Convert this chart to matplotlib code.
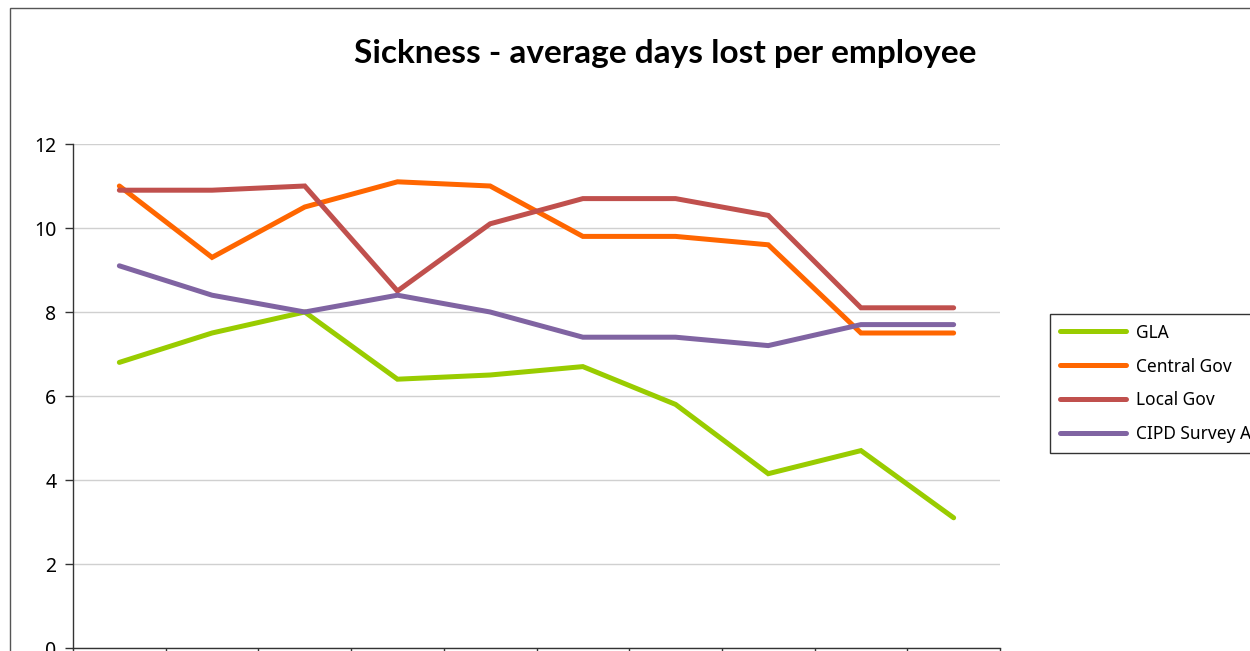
import matplotlib
matplotlib.use("Agg")
import matplotlib.pyplot as plt
from matplotlib.patches import Rectangle
from matplotlib.ticker import FixedLocator, NullFormatter

plt.rcParams['font.family'] = ['Noto Sans', 'DejaVu Sans']

categories = list(range(1, 11))
gla = [6.8, 7.5, 8.0, 6.4, 6.5, 6.7, 5.8, 4.15, 4.7, 3.1]
central_gov = [11.0, 9.3, 10.5, 11.1, 11.0, 9.8, 9.8, 9.6, 7.5, 7.5]
local_gov = [10.9, 10.9, 11.0, 8.5, 10.1, 10.7, 10.7, 10.3, 8.1, 8.1]
cipd = [9.1, 8.4, 8.0, 8.4, 8.0, 7.4, 7.4, 7.2, 7.7, 7.7]
series_names = ["GLA", "Central Gov", "Local Gov", "CIPD Survey Average"]
colors = ["#99cc00", "#ff6600", "#c0504d", "#8064a2"]
yticks = [0, 2, 4, 6, 8, 10, 12]

W, H = 1250, 651
fig = plt.figure(figsize=(W / 100, H / 100), dpi=100)
ax = fig.add_axes([73 / W, 1 - 648 / H, (1000 - 73) / W, (648 - 144) / H])

x = list(range(len(categories)))
lines = []
for vals, name, c in zip([gla, central_gov, local_gov, cipd], series_names, colors):
    ln, = ax.plot(x, vals, color=c, lw=3.6, label=name, solid_capstyle='round',
                  solid_joinstyle='miter', zorder=3)
    lines.append(ln)

ax.set_ylim(0, 12)
ax.set_xlim(-0.5, len(categories) - 0.5)
ax.set_yticks(yticks)
ax.set_yticklabels([str(v) for v in yticks], fontsize=14)
ax.yaxis.grid(True, color="#d0d0d0", lw=1.0)
ax.set_axisbelow(True)
ax.xaxis.set_major_locator(FixedLocator([i - 0.5 for i in range(len(categories) + 1)]))
ax.xaxis.set_major_formatter(NullFormatter())
ax.tick_params(axis='y', direction='out', length=6, width=1, color='#333333', pad=6)
ax.tick_params(axis='x', direction='out', length=6, width=1, color='#333333')
for s in ['top', 'right']:
    ax.spines[s].set_visible(False)
for s in ['left', 'bottom']:
    ax.spines[s].set_color('#333333')
    ax.spines[s].set_linewidth(1)

fig.text(665 / W, 1 - 54 / H, "Sickness - average days lost per employee",
         ha='center', va='center', fontsize=24, fontweight='bold',
         family=['Lato', 'DejaVu Sans'])

leg = fig.legend(handles=lines, loc='upper left', bbox_to_anchor=(1050 / W, 1 - 314 / H),
                 bbox_transform=fig.transFigure, fontsize=12.5, frameon=True,
                 fancybox=False, handlelength=3.8, handletextpad=0.6,
                 labelspacing=0.92, borderpad=0.55, borderaxespad=0)
leg.get_frame().set_edgecolor('black')
leg.get_frame().set_linewidth(1)

fig.patches.append(Rectangle((10 / W, -0.1), 2, 1 - 8 / H + 0.1, transform=fig.transFigure,
                             fill=False, edgecolor='#555555', lw=1))

fig.savefig("out.png", dpi=100)
